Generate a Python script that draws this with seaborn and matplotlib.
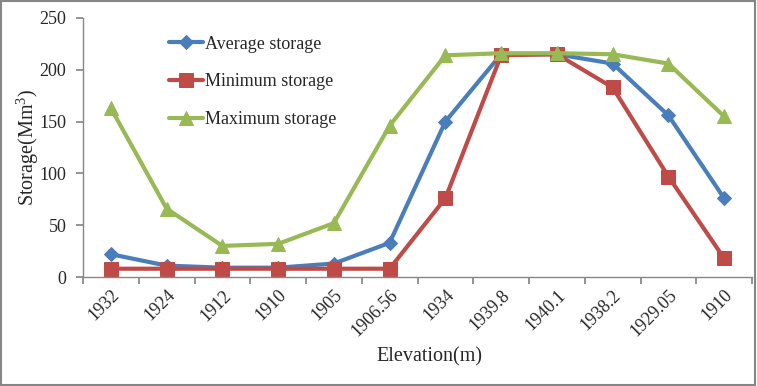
import numpy as np
import pandas as pd
import matplotlib
matplotlib.use("Agg")
import matplotlib.pyplot as plt
from matplotlib.patches import Rectangle
import seaborn as sns

elevations = ["1932", "1924", "1912", "1910", "1905", "1906.56", "1934",
              "1939.8", "1940.1", "1938.2", "1929.05", "1910"]
average_storage = [22, 11, 9, 9, 13, 33, 150, 215, 215, 206, 156, 76]
minimum_storage = [8, 8, 8, 8, 8, 8, 76, 214, 215, 183, 97, 18]
maximum_storage = [163, 66, 30, 32, 52, 146, 214, 216, 216, 215, 206, 155]

series_names = ["Average storage", "Minimum storage", "Maximum storage"]
colors = ["#4A7EBB", "#BE4B48", "#98B954"]
markers = ["D", "s", "^"]
msizes = [7, 10, 10]

sns.set_theme(style="white")
plt.rcParams["font.family"] = ["Liberation Serif", "DejaVu Serif"]
plt.rcParams["mathtext.fontset"] = "custom"
plt.rcParams["mathtext.rm"] = "Liberation Serif"

fig = plt.figure(figsize=(7.57, 3.86), dpi=100)
ax = fig.add_axes([83/757, 1 - 277/386, (752-83)/757, (277-18)/386])

pos = np.arange(len(elevations))
for name, vals, c, m, ms in zip(series_names,
                                [average_storage, minimum_storage, maximum_storage],
                                colors, markers, msizes):
    df = pd.DataFrame({"x": pos, "y": vals})
    sns.lineplot(data=df, x="x", y="y", ax=ax, color=c, marker=m, markersize=ms,
                 markeredgecolor=c, linewidth=3, label=name)

ax.set_xlim(-0.5, len(elevations) - 0.5)
ax.set_ylim(0, 250)
ax.set_yticks([0, 50, 100, 150, 200, 250])
ax.set_xticks(np.arange(-0.5, len(elevations)), minor=False)
ax.set_xticklabels([])
ax.set_xticks(pos, minor=True)
ax.set_xticklabels(elevations, minor=True, rotation=45, ha="right",
                   rotation_mode="anchor", fontsize=13)
ax.tick_params(axis="x", which="minor", length=0, pad=7)
ax.tick_params(axis="x", which="major", length=5, color="#868686", direction="out", bottom=True)
ax.tick_params(axis="y", length=5, color="#868686", direction="out", left=True, labelsize=13, pad=7)

for s in ["top", "right"]:
    ax.spines[s].set_visible(False)
for s in ["left", "bottom"]:
    ax.spines[s].set_color("#868686")
    ax.spines[s].set_linewidth(1)

ax.set_xlabel("Elevation(m)", fontsize=14.5)
ax.set_ylabel("Storage(Mm$^3$)", fontsize=14.5)
ax.xaxis.set_label_coords((429 - 83) / 669, -(357 - 277) / 259, transform=ax.transAxes)
ax.xaxis.label.set_va("center")
ax.yaxis.set_label_coords(-(83 - 28) / 669, 0.5, transform=ax.transAxes)
ax.yaxis.label.set_va("center")

leg = ax.legend(loc="upper left", bbox_to_anchor=(0.104, 0.995), frameon=False,
                fontsize=13, labelspacing=1.15, handlelength=1.9, handletextpad=0.1)

fig.patches.append(Rectangle((0.001, 0.002), 0.997, 0.995, transform=fig.transFigure,
                             fill=False, edgecolor="#868686", linewidth=1.5))

fig.savefig("out.png", dpi=100)
